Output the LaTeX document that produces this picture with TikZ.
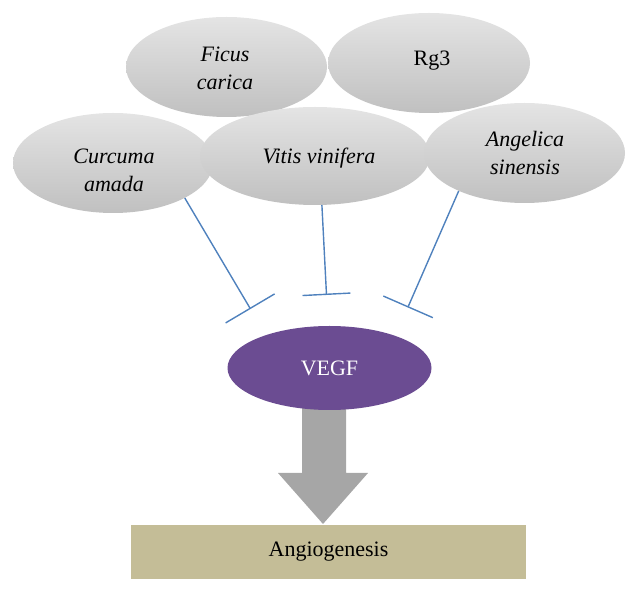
\documentclass[tikz,border=0pt]{standalone}
\usepackage{fontspec}
\setmainfont{Liberation Serif}
\usetikzlibrary{shapes.geometric,arrows.meta}
\definecolor{elltop}{RGB}{228,228,228}
\definecolor{ellbot}{RGB}{192,192,192}
\definecolor{blockblue}{RGB}{79,129,189}
\definecolor{vegfpurple}{RGB}{107,76,146}
\definecolor{arrowgray}{RGB}{166,166,166}
\definecolor{angiotan}{RGB}{196,189,151}
\tikzset{
  herb/.style={ellipse, inner sep=0pt, draw=none, top color=elltop, bottom color=ellbot},
  lbl/.style={align=center, font=\fontsize{22}{28}\selectfont, inner sep=0pt},
  inhib/.style={draw=blockblue, line width=1.4pt},
}
\begin{document}
\begin{tikzpicture}[x=1pt,y=1pt]
\useasboundingbox (0,0) rectangle (639,594);
% herb ellipses
\node[herb, minimum width=201pt, minimum height=100pt] (ficus) at (226.5,527) {};
\node[herb, minimum width=202pt, minimum height=100pt] (rg3) at (429,531) {};
\node[herb, minimum width=200pt, minimum height=100pt] (cur) at (113,431) {};
\node[herb, minimum width=230pt, minimum height=98pt] (vit) at (315,438) {};
\node[herb, minimum width=201pt, minimum height=100pt] (ang) at (524.5,441) {};
% labels
\node[lbl] (ficusT) at (225,525.5) {\itshape Ficus\\\itshape carica};
\node[lbl] (rg3T) at (432,533) {Rg3};
\node[lbl] (curT) at (114,424) {\itshape Curcuma\\\itshape amada};
\node[lbl] (vitT) at (319,436) {\itshape Vitis vinifera};
\node[lbl] (angT) at (525,441.5) {\itshape Angelica\\\itshape sinensis};
% block arrow
\fill[arrowgray] (302,186) -- (346,186) -- (346,121) -- (368,121) -- (323,70) -- (278,121) -- (302,121) -- cycle;
% VEGF
\node[ellipse, fill=vegfpurple, minimum width=204pt, minimum height=84pt, inner sep=0pt,
      text=white, font=\fontsize{22}{26}\selectfont] (vegf) at (329.5,226) {VEGF};
% Angiogenesis
\node[rectangle, fill=angiotan, minimum width=395pt, minimum height=54pt, inner sep=0pt,
      font=\fontsize{22}{26}\selectfont] (angio) at (328.5,42) {Angiogenesis};
% inhibition ends
\coordinate (t1) at (250.5,285);
\coordinate (t2) at (326.5,299);
\coordinate (t3) at (407.8,286.5);
\draw[inhib, -{Bar[width=57pt,line width=1.4pt]}] (cur.-26.6) -- (t1);
\draw[inhib, -{Bar[width=48pt,line width=1.4pt]}] (vit.-82.2) -- (t2);
\draw[inhib, -{Bar[width=54pt,line width=1.4pt]}] (ang.210.4) -- (t3);
\end{tikzpicture}
\end{document}
